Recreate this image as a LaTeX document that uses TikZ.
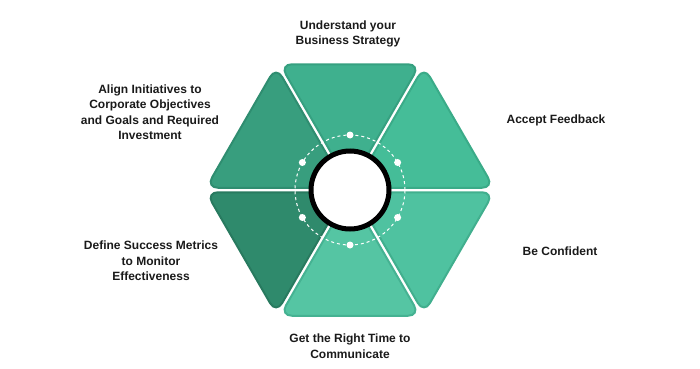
\documentclass[tikz,border=0pt]{standalone}
\usepackage{fontspec}
\setmainfont{Liberation Sans}
\usetikzlibrary{calc,positioning}
\definecolor{segTop}{HTML}{3FB08E}
\definecolor{segTopD}{HTML}{36A080}
\definecolor{segUR}{HTML}{45BD98}
\definecolor{segURD}{HTML}{3AAB88}
\definecolor{segLR}{HTML}{4FC2A0}
\definecolor{segLRD}{HTML}{41AF8E}
\definecolor{segBot}{HTML}{55C5A3}
\definecolor{segBotD}{HTML}{45B292}
\definecolor{segLL}{HTML}{2F8A6C}
\definecolor{segLLD}{HTML}{287A5F}
\definecolor{segUL}{HTML}{389E7E}
\definecolor{segULD}{HTML}{2F8D70}
\definecolor{txt}{HTML}{1A1A1A}
\begin{document}
\begin{tikzpicture}[x=1pt,y=1pt,
    seg/.style={line width=2pt, rounded corners=12pt},
    txtlabel/.style={font=\bfseries\fontsize{12}{15.5}\selectfont, text=txt, align=center}]
        \useasboundingbox (0,0) rectangle (700,368);

        % Coordinates
        \coordinate (O) at (350,178);

        % Segments
        \foreach \ang/\fc/\dc in {90/segTop/segTopD, 30/segUR/segURD, -30/segLR/segLRD,
                                  -90/segBot/segBotD, 210/segLL/segLLD, 150/segUL/segULD}{
            \draw[seg, fill=\fc, draw=\dc] ($(O)+(\ang:4.5)$) -- ++(\ang-30:140)
                -- ++(\ang+90:140) -- cycle;
        }

        % Ring
        \draw[white, line width=1pt, dash pattern=on 3pt off 3pt] (O) circle (55);
        \foreach \a in {30,90,...,330}
            \fill[white] (O) ++(\a:55) circle (3.5);
        \draw[line width=5pt, fill=white] (O) circle (39);

        % Labels
        \node[txtlabel] (strategy) at (348,334) {Understand your\\Business Strategy};
        \node[txtlabel] (feedback) at (556,248) {Accept Feedback};
        \node[txtlabel] (confident) at (560,117) {Be Confident};
        \node[txtlabel] (timing) at (350,22) {Get the Right Time to\\Communicate};
        \node[txtlabel] (metrics) at (151,107) {Define Success Metrics\\to Monitor\\Effectiveness};
        \node[txtlabel] (align) at (150,256) {Align Initiatives to\\Corporate Objectives\\and Goals and Required\\Investment};
\end{tikzpicture}
\end{document}
